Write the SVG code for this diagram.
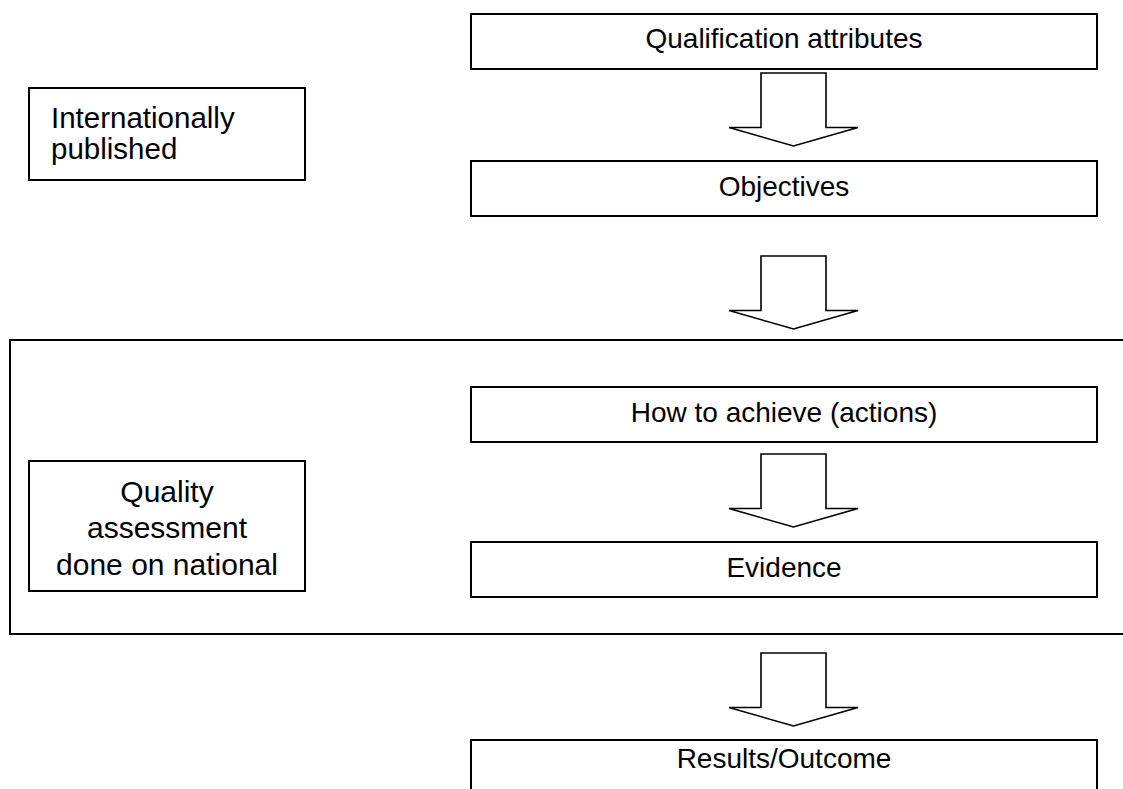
<svg xmlns="http://www.w3.org/2000/svg" width="1123" height="789" viewBox="0 0 1123 789">
<style>
.box{fill:#fff;stroke:#000;stroke-width:2}
.frame{fill:none;stroke:#000;stroke-width:2}
.arr{fill:#fff;stroke:#000;stroke-width:1.6;stroke-linejoin:miter}
.t{font-family:"Liberation Sans",Arial,sans-serif;font-size:28px;fill:#000;text-anchor:middle}
.tl{font-family:"Liberation Sans",Arial,sans-serif;font-size:29.5px;fill:#000}
.tq{font-family:"Liberation Sans",Arial,sans-serif;font-size:30px;fill:#000;text-anchor:middle}
</style>
<defs>
<path id="blockarrow" d="M-32.5,0 H32.5 V54.5 H64.5 L0,73 L-64.5,54.5 H-32.5 Z"/>
</defs>
<rect width="1123" height="789" fill="#fff"/>
<g id="frame-national">
<rect class="frame" x="10" y="340" width="1125" height="294"/>
</g>
<g id="node-internationally">
<rect class="box" x="29" y="88" width="276" height="92"/>
<text class="tl" x="51" y="128">Internationally</text>
<text class="tl" x="51" y="158.5">published</text>
</g>
<g id="node-quality">
<rect class="box" x="29" y="461" width="276" height="130"/>
<text class="tq" x="167" y="501.5">Quality</text>
<text class="tq" x="167" y="538">assessment</text>
<text class="tq" x="167" y="575">done on national</text>
</g>
<g id="node-qualification">
<rect class="box" x="471" y="14" width="626" height="55"/>
<text class="t" x="784" y="48">Qualification attributes</text>
</g>
<g id="node-objectives">
<rect class="box" x="471" y="161" width="626" height="55"/>
<text class="t" x="784" y="195.5">Objectives</text>
</g>
<g id="node-how">
<rect class="box" x="471" y="387" width="626" height="55"/>
<text class="t" x="784" y="421.5">How to achieve (actions)</text>
</g>
<g id="node-evidence">
<rect class="box" x="471" y="542" width="626" height="55"/>
<text class="t" x="784" y="576.5">Evidence</text>
</g>
<g id="node-results">
<rect class="box" x="471" y="740" width="626" height="60"/>
<text class="t" x="784" y="768">Results/Outcome</text>
</g>
<g id="connectors">
<use href="#blockarrow" class="arr" x="793.5" y="73"/>
<use href="#blockarrow" class="arr" x="793.5" y="256"/>
<use href="#blockarrow" class="arr" x="793.5" y="454"/>
<use href="#blockarrow" class="arr" x="793.5" y="653"/>
</g>
</svg>
